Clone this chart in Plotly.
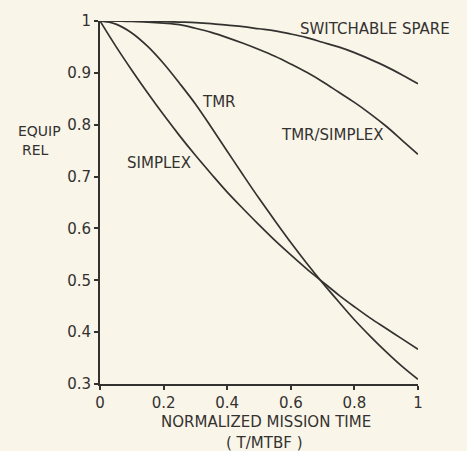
import plotly.graph_objects as go

# Normalized mission time (T/MTBF)
t = [0.0, 0.05, 0.1, 0.15, 0.2, 0.25, 0.3, 0.35, 0.4, 0.45, 0.5,
     0.55, 0.6, 0.65, 0.7, 0.75, 0.8, 0.85, 0.9, 0.95, 1.0]

# Equipment reliability for each configuration
simplex = [1.0, 0.951, 0.905, 0.861, 0.819, 0.779, 0.741, 0.705, 0.670, 0.638, 0.607,
           0.577, 0.549, 0.522, 0.497, 0.472, 0.449, 0.427, 0.407, 0.387, 0.367]
tmr = [1.0, 0.994, 0.977, 0.951, 0.918, 0.880, 0.840, 0.795, 0.749, 0.703, 0.658,
       0.615, 0.573, 0.533, 0.495, 0.459, 0.424, 0.392, 0.362, 0.334, 0.309]
tmr_simplex = [1.0, 1.0, 0.999, 0.998, 0.996, 0.993, 0.986, 0.978, 0.968, 0.957, 0.945,
               0.932, 0.917, 0.901, 0.883, 0.863, 0.843, 0.821, 0.797, 0.770, 0.743]
switchable_spare = [1.0, 1.0, 1.0, 1.0, 0.999, 0.998, 0.997, 0.995, 0.992, 0.989, 0.985,
                    0.981, 0.975, 0.968, 0.959, 0.950, 0.939, 0.926, 0.912, 0.896, 0.879]

x_ticks = [0, 0.2, 0.4, 0.6, 0.8, 1.0]
x_tick_text = ["0", "0.2", "0.4", "0.6", "0.8", "1"]
y_ticks = [0.3, 0.4, 0.5, 0.6, 0.7, 0.8, 0.9, 1.0]
y_tick_text = ["0.3", "0.4", "0.5", "0.6", "0.7", "0.8", "0.9", "1"]

INK = "#343230"
PAPER = "#f9f5e8"
FONT = "DejaVu Sans"
TEXT_SIZE = 15

fig = go.Figure()
for series in (simplex, tmr, tmr_simplex, switchable_spare):
    fig.add_trace(go.Scatter(
        x=t, y=series, mode="lines", line=dict(color=INK, width=1.7, shape="spline"),
        cliponaxis=False, showlegend=False, hoverinfo="skip",
    ))

curve_labels = [
    ("SWITCHABLE SPARE", 0.864, 0.984),
    ("TMR/SIMPLEX", 0.730, 0.781),
    ("TMR", 0.374, 0.844),
    ("SIMPLEX", 0.187, 0.726),
]
for text, x, y in curve_labels:
    fig.add_annotation(x=x, y=y, xref="x", yref="y", text=text, showarrow=False,
                       font=dict(family=FONT, size=TEXT_SIZE, color=INK),
                       xanchor="center", yanchor="middle")

# y-axis caption on two lines, left of the tick labels
fig.add_annotation(x=-0.19, y=0.787, xref="paper", yref="y", text="EQUIP", showarrow=False,
                   font=dict(family=FONT, size=14, color=INK), xanchor="center", yanchor="middle")
fig.add_annotation(x=-0.203, y=0.752, xref="paper", yref="y", text="REL", showarrow=False,
                   font=dict(family=FONT, size=14, color=INK), xanchor="center", yanchor="middle")

# x-axis caption on two lines
fig.add_annotation(x=0.522, y=-0.106, xref="paper", yref="paper", text="NORMALIZED MISSION TIME",
                   showarrow=False, font=dict(family=FONT, size=TEXT_SIZE, color=INK),
                   xanchor="center", yanchor="middle")
fig.add_annotation(x=0.516, y=-0.162, xref="paper", yref="paper", text="( T/MTBF )",
                   showarrow=False, font=dict(family=FONT, size=TEXT_SIZE, color=INK),
                   xanchor="center", yanchor="middle")

axis_common = dict(
    showgrid=False, zeroline=False, showline=True, linecolor=INK, linewidth=2,
    ticks="outside", ticklen=4, tickwidth=1.5, tickcolor=INK,
    tickfont=dict(family=FONT, size=15, color=INK), fixedrange=True,
)

fig.update_layout(
    width=467, height=451,
    margin=dict(l=100, r=49, t=16, b=67),
    paper_bgcolor=PAPER, plot_bgcolor=PAPER,
    xaxis=dict(range=[0, 1], tickvals=x_ticks, ticktext=x_tick_text, **axis_common),
    yaxis=dict(range=[0.3, 1], tickvals=y_ticks, ticktext=y_tick_text, **axis_common),
)

fig.write_html("out.html")
